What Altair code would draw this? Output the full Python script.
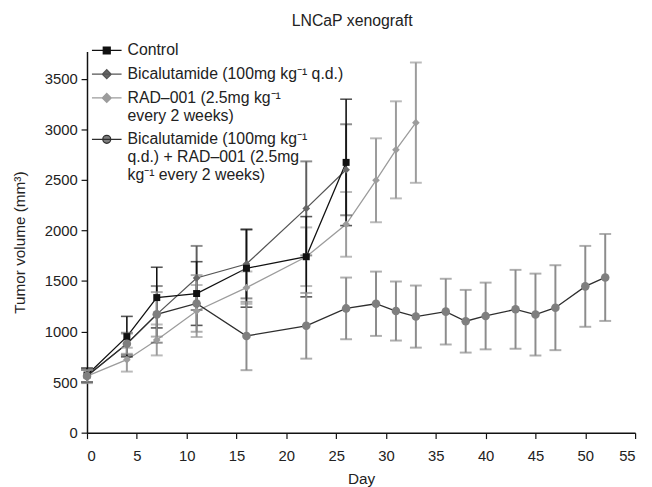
import altair as alt
import pandas as pd

FONT = "Liberation Sans"

# ---- data ----
labels = [
    "Control",
    "Bicalutamide (100mg kg⁻¹ q.d.)",
    "RAD–001 (2.5mg kg⁻¹|every 2 weeks)",
    "Bicalutamide (100mg  kg⁻¹|q.d.) + RAD–001 (2.5mg|kg⁻¹ every 2 weeks)",
]

control_days = [0, 4, 7, 11, 16, 22, 26]
control_mean = [570, 950, 1336, 1376, 1626, 1740, 2673]
control_err = [70, 200, 300, 315, 385, 397, 625]

bica_days = [0, 4, 7, 11, 16, 22, 26]
bica_mean = [560, 878, 1170, 1530, 1668, 2218, 2600]
bica_err = [60, 110, 280, 317, 340, 465, 450]

rad_days = [0, 4, 7, 11, 16, 22, 26, 29, 31, 33]
rad_mean = [560, 722, 917, 1203, 1434, 1740, 2060, 2496, 2797, 3066]
rad_err = [70, 118, 153, 257, 160, 290, 320, 415, 480, 595]

combo_days = [0, 4, 7, 11, 16, 22, 26, 29, 31, 33, 36, 38, 40, 43, 45, 47, 50, 52]
combo_mean = [560, 880, 1170, 1278, 956, 1057, 1229, 1275, 1203, 1148, 1197,
              1102, 1154, 1220, 1168, 1236, 1447, 1535]
combo_err = [60, 100, 220, 280, 338, 325, 305, 318, 292, 307, 325, 310, 330,
             390, 405, 420, 400, 430]

x_ticks = list(range(0, 60, 5))
y_ticks = list(range(0, 4000, 500))

# ---- styles ----
line_colors = ["#111111", "#555555", "#9c9c9c", "#2e2e2e"]
marker_colors = ["#111111", "#666666", "#9c9c9c", "#7f7f7f"]
err_colors = ["#111111", "#5e5e5e", "#9c9c9c", "#8c8c8c"]
shapes = ["square", "diamond", "diamond", "circle"]
sizes = [50, 60, 60, 75]
legend_paths = [
    "M-1,0L2,0M0.15,-0.35L0.85,-0.35L0.85,0.35L0.15,0.35Z",
    "M-1,0L2,0M0.5,-0.45L0.95,0L0.5,0.45L0.05,0Z",
    "M-1,0L2,0M0.5,-0.45L0.95,0L0.5,0.45L0.05,0Z",
    "M-1,0L2,0M0.1,0A0.4,0.4,0,1,1,0.9,0A0.4,0.4,0,1,1,0.1,0Z",
]

rows = []
for lab, d, m, e in zip(labels,
                        [control_days, bica_days, rad_days, combo_days],
                        [control_mean, bica_mean, rad_mean, combo_mean],
                        [control_err, bica_err, rad_err, combo_err]):
    for di, mi, ei in zip(d, m, e):
        rows.append({"series": lab, "day": di, "mean": mi, "lo": mi - ei, "hi": mi + ei})
df = pd.DataFrame(rows)

x_enc = alt.X("day:Q", scale=alt.Scale(domain=[0, 55], nice=False),
              axis=alt.Axis(values=x_ticks, title="Day", labelPadding=10, titlePadding=8))
y_scale = alt.Scale(domain=[0, 3770], nice=False)
y_axis = alt.Axis(values=y_ticks, format="d", title="Tumor volume (mm³)")

base = alt.Chart(df)
layers = []
order = [2, 1, 0, 3]
for i in order:
    lab = labels[i]
    b = base.transform_filter(alt.datum.series == lab)
    layers.append(b.mark_line(color=line_colors[i], strokeWidth=1.3).encode(
        x=x_enc, y=alt.Y("mean:Q", scale=y_scale, axis=y_axis)))
for i in order:
    lab = labels[i]
    b = base.transform_filter(alt.datum.series == lab)
    sw = 1.6 if i == 0 else 2.0
    layers.append(b.mark_rule(color=err_colors[i], strokeWidth=sw).encode(
        x=x_enc, y=alt.Y("lo:Q", scale=y_scale, axis=y_axis), y2="hi:Q"))
    layers.append(b.mark_tick(color=err_colors[i], orient="horizontal", size=12, thickness=sw).encode(
        x=x_enc, y=alt.Y("lo:Q", scale=y_scale, axis=y_axis)))
    layers.append(b.mark_tick(color=err_colors[i], orient="horizontal", size=12, thickness=sw).encode(
        x=x_enc, y=alt.Y("hi:Q", scale=y_scale, axis=y_axis)))
for i in order:
    lab = labels[i]
    b = base.transform_filter(alt.datum.series == lab)
    layers.append(b.mark_point(shape=shapes[i], filled=True, size=sizes[i],
                               color=marker_colors[i], opacity=1).encode(
        x=x_enc, y=alt.Y("mean:Q", scale=y_scale, axis=y_axis)))

leg = alt.Legend(title=None, orient="none", legendX=4, legendY=-12,
                 symbolSize=400, labelExpr="split(datum.label, '|')",
                 labelFont=FONT, labelFontSize=16, labelLimit=600, labelOffset=15,
                 rowPadding=5, symbolOpacity=1, symbolStrokeWidth=1.3,
                 labelColor="#222222")
legend_layer = base.mark_point(filled=True, opacity=0).encode(
    x=x_enc, y=alt.Y("mean:Q", scale=y_scale, axis=y_axis),
    shape=alt.Shape("series:N", scale=alt.Scale(domain=labels, range=legend_paths), legend=leg),
    fill=alt.Fill("series:N", scale=alt.Scale(domain=labels, range=marker_colors), legend=leg),
    stroke=alt.Stroke("series:N", scale=alt.Scale(domain=labels, range=line_colors), legend=leg),
)
layers.append(legend_layer)

chart = alt.layer(*layers).properties(
    width=555, height=386,
    autosize=alt.AutoSizeParams(type="none"),
    padding={"left": 80, "top": 41, "right": 9, "bottom": 52},
    title=alt.TitleParams("LNCaP xenograft", font=FONT, fontSize=16, fontWeight="normal",
                          color="#222222", anchor="middle", dx=-9, offset=11),
).configure_view(stroke=None).configure_axis(
    grid=False, domainColor="#111111", domainWidth=1.5, tickColor="#111111",
    tickWidth=1.2, tickSize=6, labelFont=FONT, labelFontSize=15, labelColor="#222222",
    titleFont=FONT, titleFontSize=15.5, titleFontWeight="normal", titleColor="#222222",
    labelPadding=4,
).configure_axisY(titlePadding=17)

chart.save("out.html", embed_options={"renderer": "svg", "actions": False})
